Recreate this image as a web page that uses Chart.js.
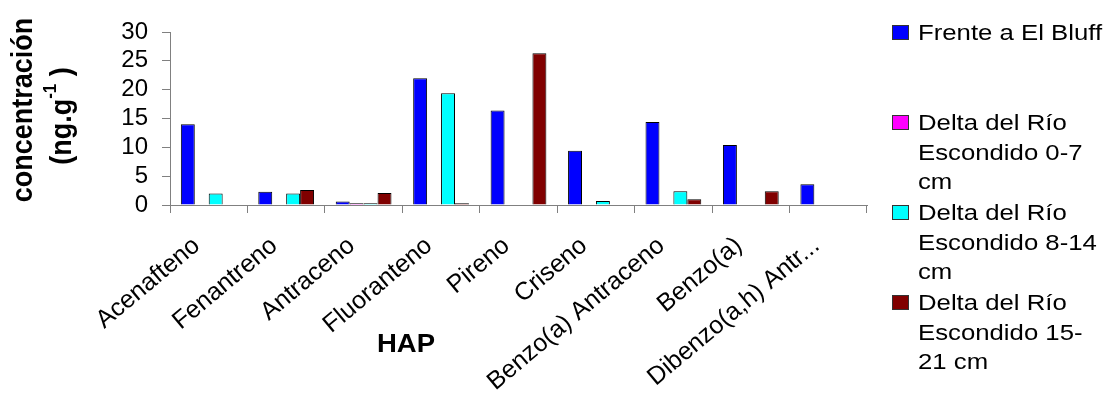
<!DOCTYPE html>
<html>
<head>
<meta charset="utf-8">
<script src="https://cdn.jsdelivr.net/npm/chart.js@4"></script>
<style>
  html, body { margin: 0; padding: 0; background: #fff; }
</style>
</head>
<body>
<canvas id="hapChart" width="1106" height="409"></canvas>
<script>
// DATA
const categories = ["Acenafteno", "Fenantreno", "Antraceno", "Fluoranteno", "Pireno",
    "Criseno", "Benzo(a) Antraceno", "Benzo(a)", "Dibenzo(a,h) Antr..."];

const frenteBluff = [14.0, 2.3, 0.6, 22.0, 16.4, 9.4, 14.4, 10.4, 3.6];
const delta0to7   = [null, null, 0.3, null, null, null, null, null, null];
const delta8to14  = [2.0, 2.0, 0.3, 19.4, null, 0.7, 2.4, null, null];
const delta15to21 = [null, 2.6, 2.1, 0.3, 26.3, null, 1.0, 2.4, null];

// legend text, already broken into lines as in the original
const seriesLines = [
    ["Frente a El Bluff"],
    ["Delta del Río", "Escondido 0-7", "cm"],
    ["Delta del Río", "Escondido 8-14", "cm"],
    ["Delta del Río", "Escondido 15-", "21 cm"]
];
const seriesColors = ["#0000ff", "#ff00ff", "#00ffff", "#800000"];
const yTicks = { min: 0, max: 30, step: 5 };

Chart.defaults.font.family = "'Liberation Sans', Arial, sans-serif";
Chart.defaults.color = "#000";

// titles + legend drawn by hand (Excel-like layout, slightly wide text)
const extras = {
    id: "extras",
    afterDraw(chart) {
        const c = chart.ctx;
        const area = chart.chartArea;
        const stretch = 1.12;
        c.save();
        c.fillStyle = "#000";

        // y title, line 1
        c.save();
        c.translate(31.5, 110);
        c.rotate(-Math.PI / 2);
        c.scale(1, stretch);
        c.font = "bold 27px 'Liberation Sans', Arial";
        c.textAlign = "center";
        c.fillText("concentración", 0, 0);
        c.restore();

        // y title, line 2 with superscript
        const parts = [
            { t: "(ng.g", f: "bold 27px 'Liberation Sans', Arial", dy: 0 },
            { t: "-1", f: "bold 17px 'Liberation Sans', Arial", dy: -13 },
            { t: " )", f: "bold 27px 'Liberation Sans', Arial", dy: 0 }
        ];
        let total = 0;
        parts.forEach(p => { c.font = p.f; p.w = c.measureText(p.t).width; total += p.w; });
        c.save();
        c.translate(71, 116);
        c.rotate(-Math.PI / 2);
        c.scale(1, stretch);
        c.textAlign = "left";
        let px = -total / 2;
        parts.forEach(p => {
            c.font = p.f;
            c.fillText(p.t, px, p.dy);
            px += p.w;
        });
        c.restore();

        // x title
        c.save();
        c.translate(area.left + 236, 352);
        c.scale(1.1, 1);
        c.font = "bold 25px 'Liberation Sans', Arial";
        c.textAlign = "center";
        c.fillText("HAP", 0, 0);
        c.restore();

        // legend
        seriesLines.forEach((lines, i) => {
            const base = 40 + i * 90;
            c.fillStyle = seriesColors[i];
            c.fillRect(892, base - 15, 17, 15);
            c.strokeStyle = "#333";
            c.lineWidth = 1;
            c.strokeRect(892.5, base - 14.5, 16, 14);
            c.fillStyle = "#000";
            lines.forEach((line, j) => {
                c.save();
                c.translate(918, base + j * 29.5);
                c.scale(1.17, 1);
                c.font = "22px 'Liberation Sans', Arial";
                c.textAlign = "left";
                c.fillText(line, 0, 0);
                c.restore();
            });
        });

        c.restore();
    }
};

const seriesValues = [frenteBluff, delta0to7, delta8to14, delta15to21];

const chart = new Chart(document.getElementById("hapChart"), {
    type: "bar",
    data: {
        labels: categories,
        datasets: seriesLines.map((lines, i) => ({
            label: lines.join(" "),
            data: seriesValues[i],
            backgroundColor: seriesColors[i],
            borderColor: "#000",
            borderWidth: 1,
            categoryPercentage: 0.72,
            barPercentage: 1.0
        }))
    },
    options: {
        responsive: false,
        animation: false,
        layout: { padding: { top: 32, right: 239, bottom: 0, left: 0 } },
        plugins: {
            legend: { display: false },
            tooltip: { enabled: false }
        },
        scales: {
            x: {
                grid: { drawOnChartArea: false, tickLength: 8, color: "#808080", offset: true },
                border: { color: "#808080" },
                ticks: {
                    autoSkip: false,
                    maxRotation: 40,
                    minRotation: 40,
                    font: { size: 25 },
                    padding: 18,
                    labelOffset: -12
                },
                afterFit(scale) { scale.height = 204; }
            },
            y: {
                min: yTicks.min,
                max: yTicks.max,
                grid: { drawOnChartArea: false, tickLength: 8, color: "#808080" },
                border: { color: "#808080" },
                ticks: { stepSize: yTicks.step, autoSkip: false, font: { size: 24 }, padding: 14 },
                afterFit(scale) { scale.width = 170; }
            }
        }
    },
    plugins: [extras]
});
</script>
</body>
</html>
